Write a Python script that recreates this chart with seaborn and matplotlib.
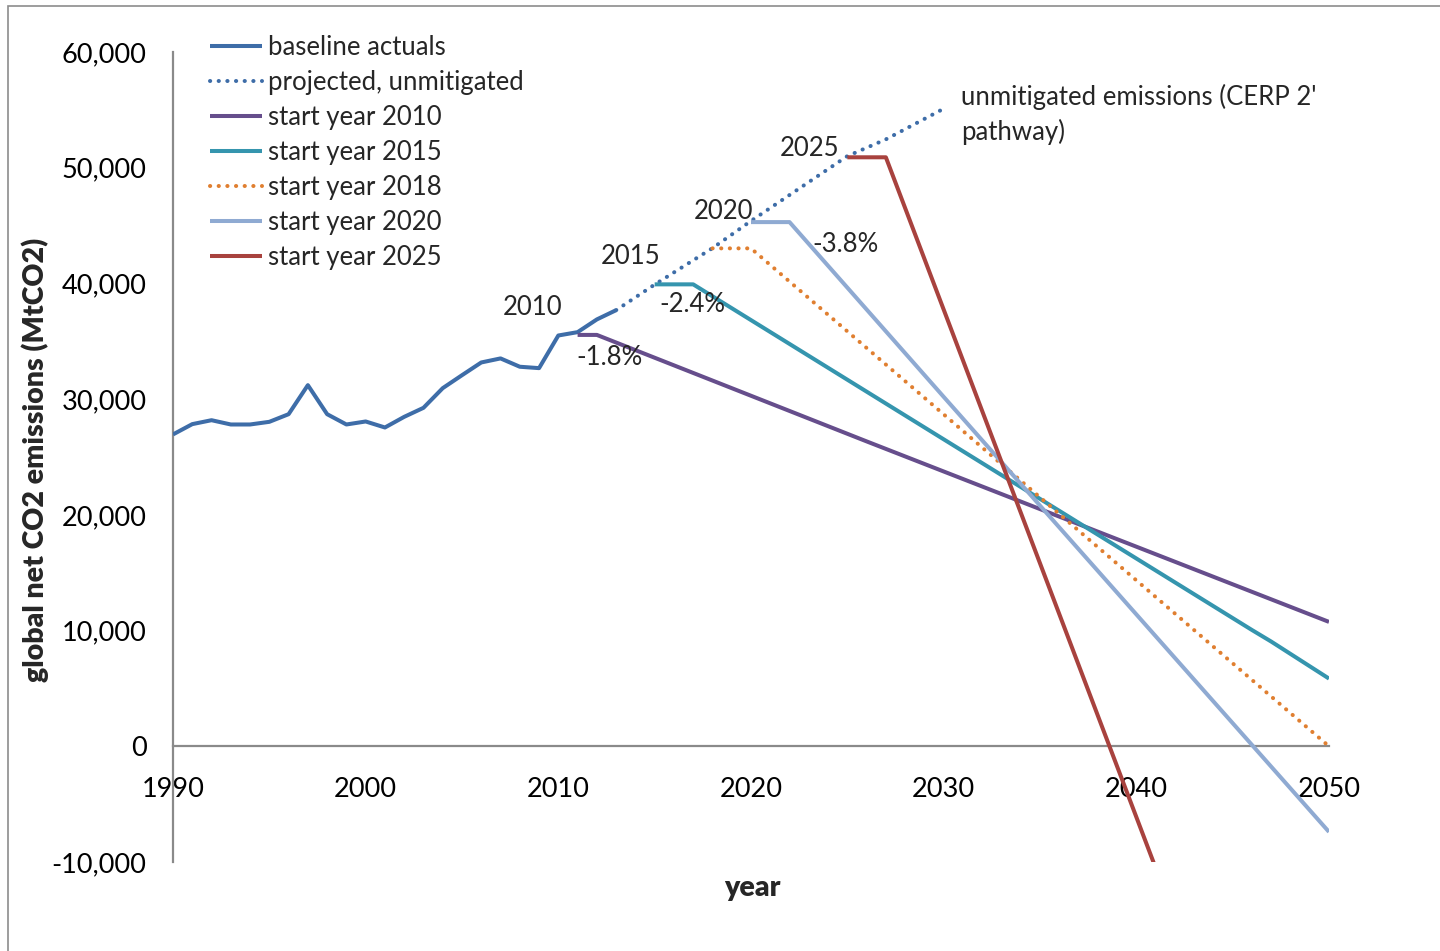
import numpy as np
import pandas as pd
import matplotlib
matplotlib.use("Agg")
import matplotlib.pyplot as plt
import matplotlib.patches as mpatches
from matplotlib.lines import Line2D
from matplotlib.ticker import FuncFormatter
import seaborn as sns

# ---------------- data ----------------
baseline_years = list(range(1990, 2014))
baseline_vals = [26950, 27840, 28180, 27810, 27810, 28040, 28700, 31210, 28700, 27810,
                 28070, 27550, 28470, 29250, 30950, 32070, 33170, 33520, 32800, 32680,
                 35500, 35790, 36890, 37690]

projected_years = [2013, 2015, 2018, 2020, 2025, 2027, 2030]
projected_vals = [37690, 39900, 43050, 45400, 51000, 52450, 55100]

s2010_years = [2011, 2012, 2026, 2050]
s2010_vals = [35550, 35550, 26350, 10750]

s2015_years = [2015, 2017, 2046, 2047, 2050]
s2015_vals = [39920, 39920, 10050, 9050, 5850]

s2018_years = [2018, 2020, 2050]
s2018_vals = [43030, 43030, 0]

s2020_years = [2020, 2022, 2030, 2050]
s2020_vals = [45300, 45300, 30200, -7400]

s2025_years = [2025, 2027, 2041]
s2025_vals = [50900, 50900, -10500]

legend_labels = ["baseline actuals", "projected, unmitigated", "start year 2010",
                 "start year 2015", "start year 2018", "start year 2020", "start year 2025"]

y_ticks = [-10000, 0, 10000, 20000, 30000, 40000, 50000, 60000]
x_ticks = [1990, 2000, 2010, 2020, 2030, 2040, 2050]

point_labels = ["2010", "-1.8%", "2015", "-2.4%", "2020", "-3.8%", "2025"]
point_label_x = [2008.68, 2012.63, 2013.77, 2016.98, 2018.59, 2024.92, 2023.06]
point_label_y = [37950, 33630, 42360, 38210, 46250, 43400, 51700]

# ---------------- style ----------------
sns.set_style("white")
plt.rcParams["font.family"] = ["Lato", "DejaVu Sans"]

FS = 18.5
FS_TICK = 19.5
FS_LABEL = 20.5
c_base = "#3E6DA8"
c_2010 = "#664E8C"
c_2015 = "#3595AE"
c_2018 = "#E07F30"
c_2020 = "#8FAAD2"
c_2025 = "#A8423E"
LW = 2.9
DOT = (0, (0.05, 2.1))

fig = plt.figure(figsize=(14.4, 9.51), dpi=100)
ax = fig.add_axes([173/1440, 1 - 862/951, 1156/1440, 810/951])

series = [
    (baseline_years, baseline_vals, c_base, "-"),
    (projected_years, projected_vals, c_base, DOT),
    (s2010_years, s2010_vals, c_2010, "-"),
    (s2015_years, s2015_vals, c_2015, "-"),
    (s2018_years, s2018_vals, c_2018, DOT),
    (s2020_years, s2020_vals, c_2020, "-"),
    (s2025_years, s2025_vals, c_2025, "-"),
]

handles = []
for (xs, ys, col, ls), lab in zip(series, legend_labels):
    df = pd.DataFrame({"year": xs, "value": ys})
    kw = dict(dash_capstyle="round") if ls != "-" else dict(solid_capstyle="butt")
    sns.lineplot(data=df, x="year", y="value", ax=ax, color=col, linewidth=LW,
                 linestyle=ls, sort=False, estimator=None, **kw)
    handles.append(Line2D([0], [0], color=col, linewidth=LW, linestyle=ls, **kw))

ax.set_xlim(1990, 2050)
ax.set_ylim(-10000, 60000)
ax.set_xticks(x_ticks)
ax.set_yticks(y_ticks)
ax.yaxis.set_major_formatter(FuncFormatter(lambda v, p: f"{int(v):,}"))

for s in ["top", "right"]:
    ax.spines[s].set_visible(False)
ax.spines["bottom"].set_position(("data", 0))
ax.spines["bottom"].set_bounds(1990, 2050)
for s in ["left", "bottom"]:
    ax.spines[s].set_color("#8A8A8A")
    ax.spines[s].set_linewidth(1.6)
    ax.spines[s].set_zorder(1)

ax.tick_params(axis="y", direction="out", length=7, width=1.6, color="#8A8A8A",
               pad=12, labelsize=FS_TICK, labelcolor="black")
ax.tick_params(axis="x", direction="out", length=7, width=1.6, color="#8A8A8A",
               pad=15, labelsize=FS_TICK, labelcolor="black")

ax.set_xlabel("year", fontsize=FS_LABEL, fontweight="heavy")
ax.set_ylabel("global net CO2 emissions (MtCO2)", fontsize=FS_LABEL, fontweight="heavy")
ax.xaxis.set_label_coords(0.5009, -0.032)
ax.yaxis.set_label_coords(-0.119, 0.496)
ax.xaxis.label.set_va("center")
ax.yaxis.label.set_va("center")

for t, xx, yy in zip(point_labels, point_label_x, point_label_y):
    ax.text(xx, yy, t, fontsize=FS, ha="center", va="center")

ax.text(2030.89, 54600, "unmitigated emissions (CERP 2'\npathway)", fontsize=FS,
        ha="left", va="center", linespacing=1.45)

leg = ax.legend(handles, legend_labels, loc="upper left",
                bbox_to_anchor=(210/1440, 1 - 35/951), bbox_transform=fig.transFigure,
                frameon=False, fontsize=FS, handlelength=2.02, handletextpad=0.23,
                labelspacing=0.39, borderpad=0, borderaxespad=0)

fig.add_artist(mpatches.Rectangle((8/1440, -0.02), 1.0, 1 - 6/951 + 0.02,
                                  transform=fig.transFigure, fill=False,
                                  edgecolor="#8C8C8C", linewidth=1.2, clip_on=False))

fig.savefig("out.png", dpi=100)
